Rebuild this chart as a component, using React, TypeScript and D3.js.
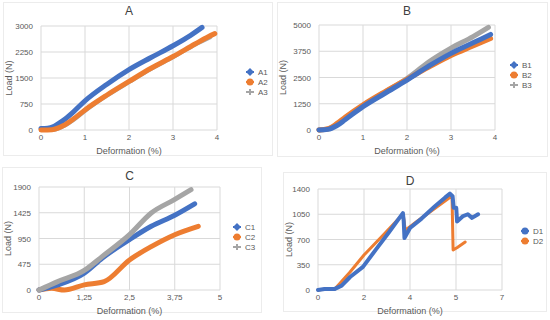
import React from 'react';
import * as d3 from 'd3';

type Pt = [number, number];

const BLUE = '#4472C4';
const ORANGE = '#ED7D31';
const GRAY = '#A5A5A5';

// Panel A
const aXTicks = [0, 1, 2, 3, 4];
const aYTicks = [0, 750, 1500, 2250, 3000];
const A1: Pt[] = [[0, 40], [0.15, 50], [0.3, 110], [0.5, 270], [0.75, 540], [1, 840], [1.5, 1320], [2, 1740], [2.5, 2090], [3, 2430], [3.4, 2730], [3.66, 2960]];
const A2: Pt[] = [[0, 0], [0.25, 10], [0.5, 120], [0.75, 330], [1, 580], [1.5, 1010], [2, 1400], [2.5, 1780], [3, 2120], [3.5, 2480], [3.8, 2690], [3.95, 2780]];
const A3: Pt[] = [[0, 0], [0.3, 10], [0.5, 100], [0.75, 300], [1, 550], [1.5, 990], [2, 1380], [2.5, 1760], [3, 2100], [3.5, 2460], [3.85, 2680]];

// Panel B
const bXTicks = [0, 1, 2, 3, 4];
const bYTicks = [0, 1250, 2500, 3750, 5000];
const B1: Pt[] = [[0, 0], [0.2, 30], [0.4, 200], [0.6, 500], [1, 1110], [1.5, 1750], [2, 2380], [2.5, 3050], [3, 3650], [3.5, 4150], [3.9, 4550]];
const B2: Pt[] = [[0, 0], [0.2, 60], [0.4, 300], [0.6, 620], [1, 1200], [1.5, 1830], [2, 2420], [2.5, 3000], [3, 3550], [3.5, 4000], [3.9, 4360]];
const B3: Pt[] = [[0, 0], [0.2, 40], [0.4, 250], [0.6, 560], [1, 1150], [1.5, 1800], [2, 2450], [2.5, 3250], [3, 3900], [3.5, 4450], [3.85, 4890]];

// Panel C
const cXTicks = [0, 1.25, 2.5, 3.75, 5];
const cYTicks = [0, 475, 950, 1425, 1900];
const C1: Pt[] = [[0, 0], [0.5, 90], [1.25, 310], [1.75, 590], [2.5, 930], [3.1, 1175], [3.75, 1380], [4.3, 1590]];
const C2: Pt[] = [[0, 0], [0.35, 30], [0.7, 0], [1.25, 95], [1.8, 155], [2.5, 555], [3.1, 800], [3.75, 1020], [4.4, 1175]];
const C3: Pt[] = [[0, 0], [0.5, 150], [1.25, 360], [1.75, 620], [2.5, 1020], [3.1, 1420], [3.75, 1670], [4.2, 1850]];

// Panel D
const dXTicks = [0, 1.75, 3.5, 5.25, 7];
const dYTicks = [0, 350, 700, 1050, 1400];
const D1: Pt[] = [[0, 0], [0.25, 15], [0.64, 15], [0.9, 60], [1.22, 180], [1.71, 320], [2.2, 560], [2.7, 800], [3.23, 1065], [3.26, 960], [3.29, 720], [3.5, 860], [3.94, 990], [4.45, 1160], [4.83, 1280], [5.02, 1335], [5.12, 1300], [5.16, 1140], [5.26, 1140], [5.29, 950], [5.52, 1025], [5.7, 1050], [5.86, 1000], [6.09, 1050]];
const D2: Pt[] = [[0, 0], [0.3, 15], [0.64, 15], [1.22, 250], [1.75, 485], [2.5, 770], [3.2, 1040], [3.25, 1020], [3.32, 830], [3.8, 960], [4.4, 1120], [5.04, 1290], [5.1, 1270], [5.14, 555], [5.3, 590], [5.6, 665]];

type Series = { name: string; data: Pt[]; color: string; marker: string; width: number; z: number };

interface PanelProps {
  title: string;
  box: [number, number, number, number];
  plot: [number, number, number, number];
  xTicks: number[];
  yTicks: number[];
  xFmt: (v: number) => string;
  series: Series[];
  legend: [number, number];
  curve: d3.CurveFactory;
}

const Marker = ({ type, color, x, y }: { type: string; color: string; x: number; y: number }) => {
  if (type === 'diamond') {
    return <path d={`M${x},${y - 4}L${x + 4},${y}L${x},${y + 4}L${x - 4},${y}Z`} fill={color} />;
  }
  if (type === 'circle') return <circle cx={x} cy={y} r={3.5} fill={color} />;
  return <path d={`M${x - 3},${y}L${x + 3},${y}M${x},${y - 3}L${x},${y + 3}`} stroke={color} strokeWidth={2} />;
};

const Panel = ({ title, box, plot, xTicks, yTicks, xFmt, series, legend, curve }: PanelProps) => {
  const [bx0, by0, bx1, by1] = box;
  const [px0, py0, px1, py1] = plot;
  const x = d3.scaleLinear().domain([xTicks[0], xTicks[xTicks.length - 1]]).range([px0, px1]);
  const y = d3.scaleLinear().domain([yTicks[0], yTicks[yTicks.length - 1]]).range([py1, py0]);
  const line = d3.line<Pt>().x(d => x(d[0])).y(d => y(d[1])).curve(curve);
  const cx = (px0 + px1) / 2;
  const drawn = [...series].sort((p, q) => p.z - q.z);
  return (
    <g>
      <rect x={bx0 + 0.5} y={by0 + 0.5} width={bx1 - bx0} height={by1 - by0} fill="#fff" stroke="#ececec" />
      <text x={cx} y={by0 + 13} textAnchor="middle" fontSize={12} fill="#404040">{title}</text>
      {xTicks.map(t => (
        <line key={'gx' + t} x1={x(t)} x2={x(t)} y1={py0} y2={py1} stroke="#d9d9d9" />
      ))}
      {yTicks.map(t => (
        <line key={'gy' + t} x1={px0} x2={px1} y1={y(t)} y2={y(t)} stroke="#d9d9d9" />
      ))}
      {yTicks.map(t => (
        <text key={'ty' + t} x={px0 - 8} y={y(t) + 3} textAnchor="end" fontSize={8} fill="#595959">{t}</text>
      ))}
      {xTicks.map(t => (
        <text key={'tx' + t} x={x(t)} y={py1 + 10} textAnchor="middle" fontSize={8} fill="#595959">{xFmt(t)}</text>
      ))}
      <text x={cx} y={py1 + 24} textAnchor="middle" fontSize={9} fill="#595959">Deformation (%)</text>
      <text transform={`translate(${bx0 + 9},${(py0 + py1) / 2}) rotate(-90)`} textAnchor="middle" fontSize={9} fill="#595959">Load (N)</text>
      {drawn.map(s => (
        <path key={s.name} d={line(s.data) || ''} fill="none" stroke={s.color} strokeWidth={s.width} strokeLinejoin="round" strokeLinecap="round" />
      ))}
      {series.map((s, i) => (
        <g key={'lg' + s.name}>
          <line x1={legend[0] - 4} x2={legend[0] + 4} y1={legend[1] + i * 10} y2={legend[1] + i * 10} stroke={s.color} strokeWidth={2} />
          <Marker type={s.marker} color={s.color} x={legend[0]} y={legend[1] + i * 10} />
          <text x={legend[0] + 8} y={legend[1] + i * 10 + 3} fontSize={8} fill="#595959">{s.name}</text>
        </g>
      ))}
    </g>
  );
};

const intFmt = (v: number) => String(v);
const commaFmt = (v: number) => String(v).replace('.', ',');
const roundFmt = (v: number) => String(Math.round(v));

export default function App() {
  return (
    <svg width={550} height={320} style={{ position: 'absolute', left: 0, top: 0, fontFamily: 'Liberation Sans, Arial, sans-serif' }}>
      <rect width={550} height={320} fill="#fff" />
      <Panel
        title="A" box={[3, 2, 272, 155]} plot={[41, 26, 217, 130]}
        xTicks={aXTicks} yTicks={aYTicks} xFmt={intFmt} legend={[250, 72]} curve={d3.curveMonotoneX}
        series={[
          { name: 'A1', data: A1, color: BLUE, marker: 'diamond', width: 5, z: 1 },
          { name: 'A2', data: A2, color: ORANGE, marker: 'circle', width: 5, z: 2 },
          { name: 'A3', data: A3, color: GRAY, marker: 'cross', width: 4, z: 0 },
        ]}
      />
      <Panel
        title="B" box={[277, 2, 547, 156]} plot={[319, 25, 495, 130]}
        xTicks={bXTicks} yTicks={bYTicks} xFmt={intFmt} legend={[514, 65]} curve={d3.curveMonotoneX}
        series={[
          { name: 'B1', data: B1, color: BLUE, marker: 'diamond', width: 5, z: 2 },
          { name: 'B2', data: B2, color: ORANGE, marker: 'circle', width: 5, z: 1 },
          { name: 'B3', data: B3, color: GRAY, marker: 'cross', width: 5, z: 0 },
        ]}
      />
      <Panel
        title="C" box={[2, 167, 261, 312]} plot={[39, 187, 220, 290]}
        xTicks={cXTicks} yTicks={cYTicks} xFmt={commaFmt} legend={[237, 227]} curve={d3.curveMonotoneX}
        series={[
          { name: 'C1', data: C1, color: BLUE, marker: 'diamond', width: 5, z: 1 },
          { name: 'C2', data: C2, color: ORANGE, marker: 'circle', width: 5, z: 0 },
          { name: 'C3', data: C3, color: GRAY, marker: 'cross', width: 5, z: 2 },
        ]}
      />
      <Panel
        title="D" box={[283, 172, 546, 311]} plot={[318, 189, 502, 290]}
        xTicks={dXTicks} yTicks={dYTicks} xFmt={roundFmt} legend={[525, 231]} curve={d3.curveLinear}
        series={[
          { name: 'D1', data: D1, color: BLUE, marker: 'circle', width: 4, z: 1 },
          { name: 'D2', data: D2, color: ORANGE, marker: 'circle', width: 3, z: 0 },
        ]}
      />
    </svg>
  );
}
